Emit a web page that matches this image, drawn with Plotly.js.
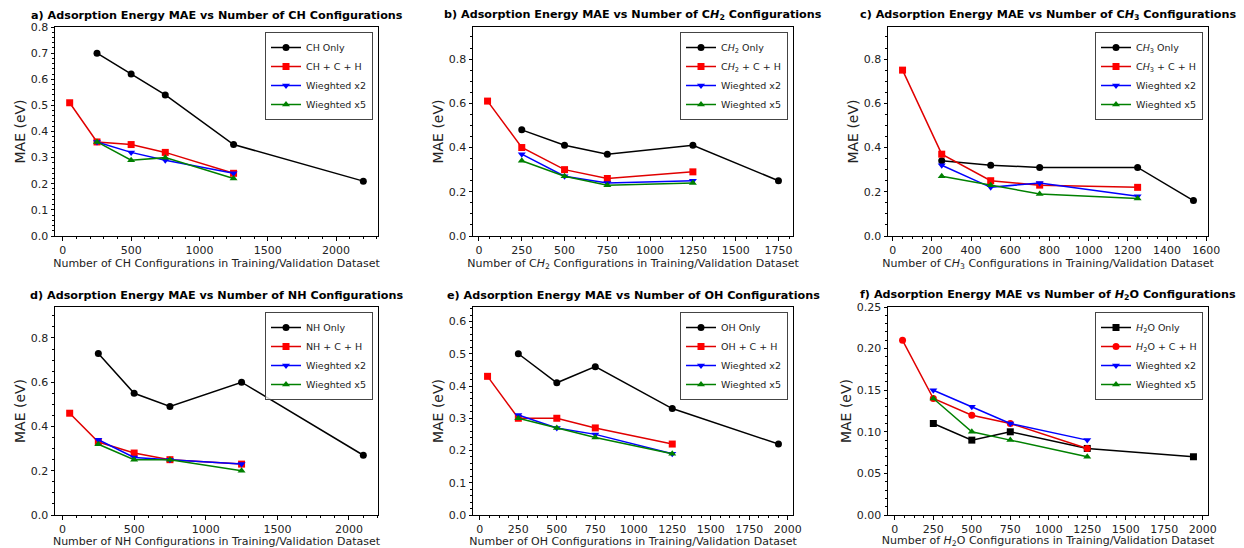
<!DOCTYPE html>
<html>
<head>
<meta charset="utf-8">
<script src="https://cdn.plot.ly/plotly-3.0.1.min.js"></script>
<style>html,body{margin:0;padding:0;background:#fff;}#chart{width:1244px;height:548px;}</style>
</head>
<body>
<div id="chart"></div>
<script>
// ---------- DATA ----------
const xMix = [50, 250, 500, 750, 1250];       // "+ C + H" series x
const xWeighted = [250, 500, 750, 1250];       // weighted series x

// a) CH
const xOnlyCH = [250, 500, 750, 1250, 2200];
const yOnlyCH = [0.70, 0.62, 0.54, 0.35, 0.21];
const yMixCH = [0.51, 0.36, 0.35, 0.32, 0.24];
const yW2CH = [0.36, 0.32, 0.29, 0.24];
const yW5CH = [0.36, 0.29, 0.30, 0.22];

// b) CH2
const xOnlyCH2 = [250, 500, 750, 1250, 1750];
const yOnlyCH2 = [0.48, 0.41, 0.37, 0.41, 0.25];
const yMixCH2 = [0.61, 0.40, 0.30, 0.26, 0.29];
const yW2CH2 = [0.37, 0.27, 0.24, 0.25];
const yW5CH2 = [0.34, 0.27, 0.23, 0.24];

// c) CH3
const xOnlyCH3 = [250, 500, 750, 1250, 1535];
const yOnlyCH3 = [0.34, 0.32, 0.31, 0.31, 0.16];
const yMixCH3 = [0.75, 0.37, 0.25, 0.23, 0.22];
const yW2CH3 = [0.32, 0.22, 0.24, 0.18];
const yW5CH3 = [0.27, 0.23, 0.19, 0.17];

// d) NH
const xOnlyNH = [250, 500, 750, 1250, 2100];
const yOnlyNH = [0.73, 0.55, 0.49, 0.60, 0.27];
const yMixNH = [0.46, 0.33, 0.28, 0.25, 0.23];
const yW2NH = [0.34, 0.26, 0.25, 0.23];
const yW5NH = [0.32, 0.25, 0.25, 0.20];

// e) OH
const xOnlyOH = [250, 500, 750, 1250, 1940];
const yOnlyOH = [0.50, 0.41, 0.46, 0.33, 0.22];
const yMixOH = [0.43, 0.30, 0.30, 0.27, 0.22];
const yW2OH = [0.31, 0.27, 0.25, 0.19];
const yW5OH = [0.30, 0.27, 0.24, 0.19];

// f) H2O
const xOnlyH2O = [250, 500, 750, 1250, 1940];
const yOnlyH2O = [0.11, 0.09, 0.10, 0.08, 0.07];
const yMixH2O = [0.21, 0.14, 0.12, 0.11, 0.08];
const yW2H2O = [0.15, 0.13, 0.11, 0.09];
const yW5H2O = [0.14, 0.10, 0.09, 0.07];

// labels
const titles = [
  "a) Adsorption Energy MAE vs Number of CH Configurations",
  "b) Adsorption Energy MAE vs Number of C<i>H</i><sub>2</sub> Configurations",
  "c) Adsorption Energy MAE vs Number of C<i>H</i><sub>3</sub> Configurations",
  "d) Adsorption Energy MAE vs Number of NH Configurations",
  "e) Adsorption Energy MAE vs Number of OH Configurations",
  "f) Adsorption Energy MAE vs Number of <i>H</i><sub>2</sub>O Configurations"
];
const species = ["CH", "C<i>H</i><sub>2</sub>", "C<i>H</i><sub>3</sub>", "NH", "OH", "<i>H</i><sub>2</sub>O"];
const xTitles = species.map(s => "Number of " + s + " Configurations in Training/Validation Dataset");
const onlyNames = species.map(s => s + " Only");
const mixNames = species.map(s => s + " + C + H");
const w2Name = "Wieghted x2";
const w5Name = "Wieghted x5";

// ---------- STYLE / LAYOUT ----------
const FONT = "DejaVu Sans, Liberation Sans, sans-serif";
const panels = [
  {xo: xOnlyCH,  yo: yOnlyCH,  ym: yMixCH,  y2: yW2CH,  y5: yW5CH,  yr: [0, 0.8],  ydt: 0.1, yfmt: ".1f", ymin: 0.02, xdt: 500, xmin: 100},
  {xo: xOnlyCH2, yo: yOnlyCH2, ym: yMixCH2, y2: yW2CH2, y5: yW5CH2, yr: [0, 0.945], ydt: 0.2, yfmt: ".1f", ymin: 0.05, xdt: 250, xmin: 62.5},
  {xo: xOnlyCH3, yo: yOnlyCH3, ym: yMixCH3, y2: yW2CH3, y5: yW5CH3, yr: [0, 0.945], ydt: 0.2, yfmt: ".1f", ymin: 0.05, xdt: 200, xmin: 50},
  {xo: xOnlyNH,  yo: yOnlyNH,  ym: yMixNH,  y2: yW2NH,  y5: yW5NH,  yr: [0, 0.94], ydt: 0.2, yfmt: ".1f", ymin: 0.05, xdt: 500, xmin: 100},
  {xo: xOnlyOH,  yo: yOnlyOH,  ym: yMixOH,  y2: yW2OH,  y5: yW5OH,  yr: [0, 0.645], ydt: 0.1, yfmt: ".1f", ymin: 0.02, xdt: 250, xmin: 62.5},
  {xo: xOnlyH2O, yo: yOnlyH2O, ym: yMixH2O, y2: yW2H2O, y5: yW5H2O, yr: [0, 0.25], ydt: 0.05, yfmt: ".2f", ymin: 0.01, xdt: 250, xmin: 62.5}
];

// pixel boxes of axes
const W = 1244, H = 548;
const cols = [[55, 378], [473, 793], [888, 1208]];
const rows = [[27, 236], [307, 515]];

const data = [];
const layout = {
  width: W, height: H,
  margin: {l: 0, r: 0, t: 0, b: 0},
  paper_bgcolor: "#fff", plot_bgcolor: "#fff",
  font: {family: FONT, size: 11, color: "#000"},
  showlegend: true,
  annotations: []
};

panels.forEach((p, i) => {
  const c = cols[i % 3], r = rows[Math.floor(i / 3)];
  const n = i + 1;
  const xa = "x" + (n === 1 ? "" : n), ya = "y" + (n === 1 ? "" : n);
  const lg = "legend" + (n === 1 ? "" : n);
  const allX = p.xo.concat(xMix);
  const mn = Math.min(...allX), mx = Math.max(...allX), sp = mx - mn;
  const common = {mode: "lines+markers", xaxis: xa, yaxis: ya, legend: lg};
  const onlySym = i === 5 ? "square" : "circle";
  const mixSym = i === 5 ? "circle" : "square";
  data.push(Object.assign({x: p.xo, y: p.yo, name: onlyNames[i],
    line: {color: "#000", width: 1.5}, marker: {color: "#000", symbol: onlySym, size: 7}}, common));
  data.push(Object.assign({x: xMix, y: p.ym, name: mixNames[i],
    line: {color: "#e00000", width: 1.5}, marker: {color: "#ff0000", symbol: mixSym, size: 7}}, common));
  data.push(Object.assign({x: xWeighted, y: p.y2, name: w2Name,
    line: {color: "#0000ff", width: 1.5}, marker: {color: "#0000ff", symbol: "triangle-down", size: 7}}, common));
  data.push(Object.assign({x: xWeighted, y: p.y5, name: w5Name,
    line: {color: "#008000", width: 1.5}, marker: {color: "#008000", symbol: "triangle-up", size: 7}}, common));

  const axBase = {showgrid: false, zeroline: false, showline: true, linecolor: "#000", linewidth: 1,
    mirror: true, ticks: "outside", ticklen: 3.5, tickwidth: 1, tickcolor: "#000",
    tickfont: {family: FONT, size: 11, color: "#222"}};
  layout["xaxis" + (n === 1 ? "" : n)] = Object.assign({}, axBase, {
    domain: [c[0] / W, c[1] / W], anchor: ya,
    range: [mn - 0.05 * sp, mx + 0.05 * sp],
    tick0: 0, dtick: p.xdt,
    minor: {ticks: "outside", ticklen: 2, tickcolor: "#000", dtick: p.xmin, tick0: 0},
    title: {text: xTitles[i], font: {family: FONT, size: 11, color: "#222"}, standoff: 2}
  });
  layout["yaxis" + (n === 1 ? "" : n)] = Object.assign({}, axBase, {
    domain: [1 - r[1] / H, 1 - r[0] / H], anchor: xa,
    range: p.yr, tick0: 0, dtick: p.ydt, tickformat: p.yfmt,
    minor: {ticks: "outside", ticklen: 2, tickcolor: "#000", dtick: p.ymin, tick0: 0},
    title: {text: "MAE (eV)", font: {family: FONT, size: 14, color: "#222"}, standoff: 1}
  });
  layout[lg] = {
    x: (c[1] - 5) / W, xanchor: "right", xref: "paper",
    y: 1 - (r[0] + 5) / H, yanchor: "top", yref: "paper",
    bgcolor: "rgba(255,255,255,0.8)", bordercolor: "#444", borderwidth: 1,
    font: {family: FONT, size: 9.5, color: "#222"},
    tracegroupgap: 0, itemwidth: 30
  };
  layout.annotations.push({
    text: "<b>" + titles[i] + "</b>", showarrow: false,
    xref: xa + " domain", yref: ya + " domain", x: 0.5, y: 1,
    xanchor: "center", yanchor: "bottom", yshift: 3,
    font: {family: FONT, size: 11.2, color: "#000"}
  });
});

Plotly.newPlot("chart", data, layout, {displayModeBar: false, staticPlot: true});
</script>
</body>
</html>
